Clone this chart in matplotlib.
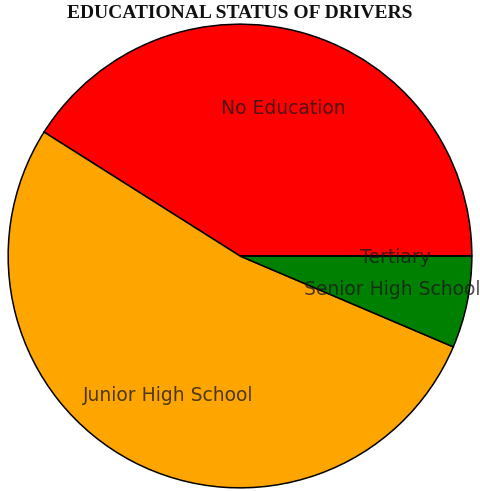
import matplotlib
matplotlib.use("Agg")
import matplotlib.pyplot as plt

categories = ["No Education", "Junior High School", "Senior High School", "Tertiary"]
counts = [32, 41, 5, 0]
colors = ["#ff0000", "#ffa500", "#008000", "#0000ff"]

fig = plt.figure(figsize=(4.8, 4.91), dpi=100)
# square axes holding the pie, placed in pixels
ax = fig.add_axes([7 / 480, 2 / 491, 466 / 480, 466 / 491])

wedges, texts = ax.pie(counts, labels=categories, colors=colors, startangle=0,
                       counterclock=True, labeldistance=0.67, radius=1,
                       wedgeprops=dict(edgecolor="black", linewidth=1.1),
                       textprops=dict(fontsize=13.5, color="#1a1a1a", alpha=0.78,
                                      family="DejaVu Sans"))
for t in texts:
    t.set_ha("center")
    t.set_va("center_baseline")

ax.set_xlim(-1.005, 1.005)
ax.set_ylim(-1.005, 1.005)
ax.set_aspect("equal")

fig.text(0.5, 0.972, "EDUCATIONAL STATUS OF DRIVERS", ha="center", va="center",
         fontsize=14, fontweight="bold", family="Liberation Serif", color="#111111")

fig.savefig("out.png", dpi=100)
